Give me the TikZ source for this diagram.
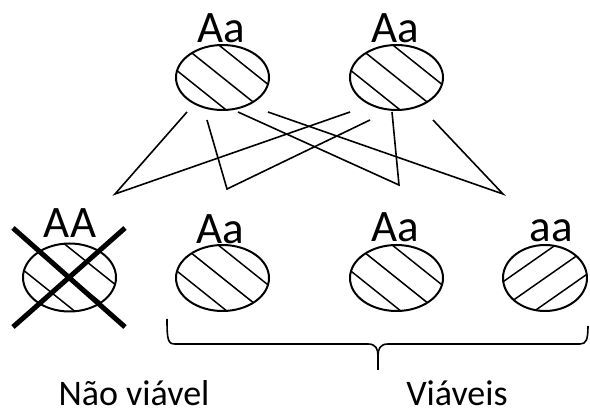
\documentclass[tikz,border=0pt]{standalone}
\usepackage{fontspec}
\setmainfont{Carlito}
\usetikzlibrary{calc,shapes.geometric}
\tikzset{
  cell/.style={ellipse, draw, line width=2pt, inner sep=0pt, minimum width=93pt, minimum height=66pt},
  hatchline/.style={line width=1.5pt},
  hatchback/.style={path picture={
      \foreach \k in {-1,0,1}{
        \draw[hatchline] ($(path picture bounding box.center)+\k*(14.4,-18)+(-80,-64)$) -- ++(160,128);
      }}},
  hatchfwd/.style={path picture={
      \foreach \k in {-1,0,1}{
        \draw[hatchline] ($(path picture bounding box.center)+\k*(12,17.2)+(-80,56)$) -- ++(160,-112);
      }}},
  geno/.style={anchor=base, inner sep=0pt, font=\fontsize{45}{54}\selectfont},
  caption/.style={anchor=base, inner sep=0pt, font=\fontsize{36}{43}\selectfont},
  link/.style={line width=1.6pt},
  crossline/.style={line width=5pt},
  bracepath/.style={line width=1.6pt},
}
\begin{document}
\begin{tikzpicture}[x=1pt, y=-1pt]
  \useasboundingbox (0,0) rectangle (590,414);

  % parents
  \node[cell, hatchback, minimum height=65pt] (p1) at (222.5,77.5) {};
  \node[cell, hatchback, minimum height=65pt] (p2) at (396.5,77.5) {};
  \node[geno] (lp1) at (221,43) {Aa};
  \node[geno] (lp2) at (395,43) {Aa};

  % offspring
  \node[cell, hatchback, minimum height=68pt] (c1) at (69.5,277.5) {};
  \node[cell, hatchback] (c2) at (222.5,278) {};
  \node[cell, hatchback] (c3) at (396.5,278) {};
  \node[cell, hatchfwd, minimum width=84pt] (c4) at (545,278) {};
  \node[geno] (lc1) at (70,238) {AA};
  \node[geno] (lc2) at (220,244) {Aa};
  \node[geno] (lc3) at (395,242) {Aa};
  \node[geno] (lc4) at (551,242) {aa};

  % cross over AA
  \coordinate (x1) at (13,228);
  \coordinate (x2) at (125,327);
  \coordinate (x3) at (125,228);
  \coordinate (x4) at (13,327);
  \draw[crossline] (x1) -- (x2);
  \draw[crossline] (x3) -- (x4);

  % connectors
  \coordinate (a1) at (187,112); \coordinate (v1) at (115,194); \coordinate (b1) at (350,112);
  \coordinate (a2) at (207,120); \coordinate (v2) at (227,189); \coordinate (b2) at (370,120);
  \coordinate (a3) at (238,112); \coordinate (v3) at (399,185); \coordinate (b3) at (392,112);
  \coordinate (a4) at (268,112); \coordinate (v4) at (503,194); \coordinate (b4) at (433,120);
  \draw[link] (a1) -- (v1) -- (b1);
  \draw[link] (a2) -- (v2) -- (b2);
  \draw[link] (a3) -- (v3) -- (b3);
  \draw[link] (a4) -- (v4) -- (b4);

  % brace
  \draw[bracepath] (167,319) .. controls (167,340) and (168,344) .. (175,344)
     -- (368,344) .. controls (376,344) and (378,349) .. (378,356) -- (378,370)
     (378,356) .. controls (378,349) and (380,344) .. (388,344)
     -- (580,344) .. controls (586,344) and (588,340) .. (588,326);

  % captions
  \node[caption] (nv) at (134,406) {Não viável};
  \node[caption] (vv) at (457,406) {Viáveis};
\end{tikzpicture}
\end{document}
